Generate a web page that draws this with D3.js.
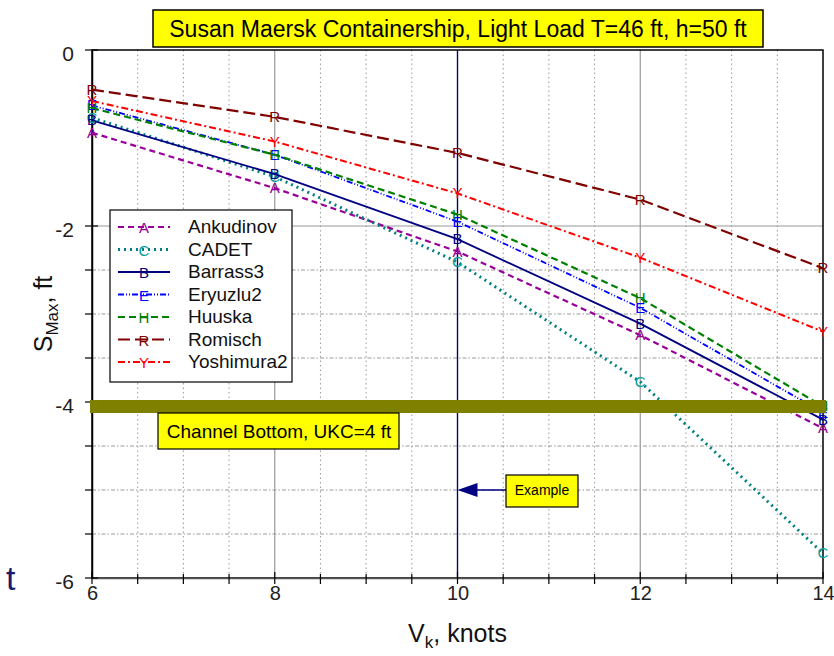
<!DOCTYPE html>
<html>
<head>
<meta charset="utf-8">
<script src="https://cdn.jsdelivr.net/npm/d3@7"></script>
<style>
  body { margin: 0; background: #ffffff; }
  text { font-family: "Liberation Sans", Arial, sans-serif; }
</style>
</head>
<body>
<div id="chart"></div>
<script>
// Data
const speeds = [6, 8, 10, 12, 14];
const ankudinov = [-0.94, -1.57, -2.29, -3.24, -4.30];
const cadet = [-0.77, -1.44, -2.41, -3.77, -5.72];
const barrass3 = [-0.80, -1.41, -2.15, -3.11, -4.20];
const eryuzlu2 = [-0.63, -1.19, -1.95, -2.93, -4.12];
const huuska = [-0.66, -1.19, -1.87, -2.82, -4.05];
const romisch = [-0.45, -0.76, -1.17, -1.70, -2.48];
const yoshimura2 = [-0.58, -1.04, -1.63, -2.36, -3.20];

const xTicks = [6, 8, 10, 12, 14];
const yTicks = [0, -2, -4, -6];
const minorY = [-2.5, -3, -3.5, -4.5, -5, -5.5];
const channelBottom = -4;
const exampleSpeed = 10;
const exampleY = -5;

// Series styling
const series = [
    { name: "Ankudinov", mark: "A", values: ankudinov, color: "#990099", dash: "6,4", width: 2.2 },
    { name: "CADET", mark: "C", values: cadet, color: "#008080", dash: "2,4", width: 3 },
    { name: "Barrass3", mark: "B", values: barrass3, color: "#000080", dash: null, width: 1.8 },
    { name: "Eryuzlu2", mark: "E", values: eryuzlu2, color: "#0000ff", dash: "6,2,1,2,1,2", width: 1.8 },
    { name: "Huuska", mark: "H", values: huuska, color: "#008000", dash: "7,4", width: 2.2 },
    { name: "Romisch", mark: "R", values: romisch, color: "#800000", dash: "12,5", width: 2.2 },
    { name: "Yoshimura2", mark: "Y", values: yoshimura2, color: "#ff0000", dash: "7,3,2,3", width: 2 }
];

const width = 834;
const height = 656;
const margin = { left: 92, right: 11, top: 50, bottom: 78 };

const svg = d3.select("#chart")
    .append("svg")
    .attr("width", width)
    .attr("height", height);

const x = d3.scaleLinear().domain([6, 14]).range([margin.left, width - margin.right]);
const y = d3.scaleLinear().domain([-6, 0]).range([height - margin.bottom, margin.top]);

// Minor vertical grid every 0.5 knot
const minorX = d3.range(6.5, 14, 0.5).filter(d => d % 2 !== 0);
svg.append("g").selectAll("line")
    .data(minorX)
    .enter().append("line")
    .attr("x1", d => x(d)).attr("x2", d => x(d))
    .attr("y1", y(0)).attr("y2", y(-6))
    .attr("stroke", "#999").attr("stroke-width", 1)
    .attr("stroke-dasharray", "1.5,3");

// Minor horizontal grid (dash-dot)
svg.append("g").selectAll("line")
    .data(minorY)
    .enter().append("line")
    .attr("x1", x(6)).attr("x2", x(14))
    .attr("y1", d => y(d)).attr("y2", d => y(d))
    .attr("stroke", "#999").attr("stroke-width", 1)
    .attr("stroke-dasharray", "4,2,1.5,2");

// Major grid
svg.append("g").selectAll("line")
    .data([8, 10, 12])
    .enter().append("line")
    .attr("x1", d => x(d)).attr("x2", d => x(d))
    .attr("y1", y(0)).attr("y2", y(-6))
    .attr("stroke", "#999").attr("stroke-width", 1.2);
svg.append("g").selectAll("line")
    .data([-2, -4])
    .enter().append("line")
    .attr("x1", x(6)).attr("x2", x(14))
    .attr("y1", d => y(d)).attr("y2", d => y(d))
    .attr("stroke", "#999").attr("stroke-width", 1.2);

// Example speed line
svg.append("line")
    .attr("x1", x(exampleSpeed)).attr("x2", x(exampleSpeed))
    .attr("y1", y(0)).attr("y2", y(-6))
    .attr("stroke", "#000080").attr("stroke-width", 1.3);

// Frame
svg.append("rect")
    .attr("x", x(6)).attr("y", y(0))
    .attr("width", x(14) - x(6)).attr("height", y(-6) - y(0))
    .attr("fill", "none").attr("stroke", "#000").attr("stroke-width", 1.5);

// Axes
const xAxis = d3.axisBottom(x).tickValues(xTicks).tickSize(0).tickPadding(8)
    .tickFormat(d => String(d));
const gx = svg.append("g")
    .attr("transform", `translate(0,${y(-6)})`)
    .call(xAxis);
gx.select(".domain").attr("stroke", "#555").attr("stroke-width", 1.5);
gx.selectAll("text").attr("font-size", 20).attr("fill", "#222")
    .attr("font-family", "'Liberation Sans', Arial, sans-serif");

// x ticks (major and minor)
svg.append("g").selectAll("line")
    .data(d3.range(6, 14.01, 0.5))
    .enter().append("line")
    .attr("x1", d => x(d)).attr("x2", d => x(d))
    .attr("y1", d => d % 2 === 0 ? y(-6) - 6 : y(-6) - 4)
    .attr("y2", y(-6) + 6)
    .attr("stroke", "#000").attr("stroke-width", 1.2);

const yAxis = d3.axisLeft(y).tickValues(yTicks).tickSize(0).tickPadding(18)
    .tickFormat(d => String(d));
const gy = svg.append("g")
    .attr("transform", `translate(${x(6)},0)`)
    .call(yAxis);
gy.select(".domain").attr("stroke", "#000").attr("stroke-width", 1.5);
gy.selectAll("text").attr("font-size", 21).attr("fill", "#222")
    .attr("dy", "0.5em")
    .attr("font-family", "'Liberation Sans', Arial, sans-serif");

// y ticks
svg.append("g").selectAll("line")
    .data(yTicks.concat(minorY))
    .enter().append("line")
    .attr("x1", x(6) - 7).attr("x2", d => yTicks.includes(d) ? x(6) + 6 : x(6))
    .attr("y1", d => y(d)).attr("y2", d => y(d))
    .attr("stroke", "#000").attr("stroke-width", 1.2);

// Series lines
const line = d3.line()
    .x((d, i) => x(speeds[i]))
    .y(d => y(d));

svg.append("g").selectAll("path")
    .data(series)
    .enter().append("path")
    .attr("d", s => line(s.values))
    .attr("fill", "none")
    .attr("stroke", s => s.color)
    .attr("stroke-width", s => s.width)
    .attr("stroke-dasharray", s => s.dash);

// Letter markers
series.forEach(s => {
    svg.append("g").selectAll("text")
        .data(s.values)
        .enter().append("text")
        .attr("x", (d, i) => x(speeds[i]))
        .attr("y", d => y(d) + 5)
        .attr("text-anchor", "middle")
        .attr("font-size", 15)
        .attr("fill", s.color === "#008080" ? "#00a0a0" : s.color)
        .text(s.mark);
});

// Channel bottom bar
svg.append("rect")
    .attr("x", x(6) - 2)
    .attr("y", y(channelBottom) - 2)
    .attr("width", x(14) - x(6) + 5)
    .attr("height", 13)
    .attr("fill", "#808000");

svg.append("rect")
    .attr("x", 158).attr("y", y(channelBottom) + 11)
    .attr("width", 241).attr("height", 36)
    .attr("fill", "#ffff00").attr("stroke", "#000").attr("stroke-width", 1.2);
svg.append("text")
    .attr("x", 279).attr("y", y(channelBottom) + 36)
    .attr("text-anchor", "middle")
    .attr("font-size", 19)
    .text("Channel Bottom, UKC=4 ft");

// Example annotation
svg.append("line")
    .attr("x1", 506).attr("x2", x(exampleSpeed) + 18)
    .attr("y1", y(exampleY)).attr("y2", y(exampleY))
    .attr("stroke", "#000080").attr("stroke-width", 1.5);
svg.append("path")
    .attr("d", `M${x(exampleSpeed)},${y(exampleY)} l20,-7 l0,14 z`)
    .attr("fill", "#000080");
svg.append("rect")
    .attr("x", 506).attr("y", y(exampleY) - 15)
    .attr("width", 72).attr("height", 32)
    .attr("fill", "#ffff00").attr("stroke", "#000").attr("stroke-width", 1.2);
svg.append("text")
    .attr("x", 542).attr("y", y(exampleY) + 5)
    .attr("text-anchor", "middle")
    .attr("font-size", 14)
    .text("Example");

// Legend
const legend = svg.append("g").attr("transform", "translate(110,210)");
legend.append("rect")
    .attr("width", 182).attr("height", 172)
    .attr("fill", "#fff").attr("stroke", "#000").attr("stroke-width", 1.2);
const rows = legend.selectAll("g.row")
    .data(series)
    .enter().append("g")
    .attr("class", "row")
    .attr("transform", (d, i) => `translate(0,${17 + i * 22.5})`);
rows.append("line")
    .attr("x1", 8).attr("x2", 60)
    .attr("stroke", s => s.color)
    .attr("stroke-width", s => s.width)
    .attr("stroke-dasharray", s => s.dash);
rows.append("text")
    .attr("x", 34).attr("y", 6)
    .attr("text-anchor", "middle")
    .attr("font-size", 15)
    .attr("fill", s => s.color === "#008080" ? "#00a0a0" : s.color)
    .text(s => s.mark);
rows.append("text")
    .attr("x", 78).attr("y", 6)
    .attr("font-size", 19)
    .attr("fill", "#111")
    .text(s => s.name);

// Title box
svg.append("rect")
    .attr("x", 153).attr("y", 10)
    .attr("width", 610).attr("height", 37)
    .attr("fill", "#ffff00").attr("stroke", "#000").attr("stroke-width", 1.5);
svg.append("text")
    .attr("x", 458).attr("y", 37)
    .attr("text-anchor", "middle")
    .attr("font-size", 23)
    .text("Susan Maersk Containership, Light Load T=46 ft, h=50 ft");

// Axis titles
const yl = svg.append("text")
    .attr("transform", `translate(52,${(y(0) + y(-6)) / 2}) rotate(-90)`)
    .attr("text-anchor", "middle")
    .attr("font-size", 25)
    .attr("fill", "#111");
yl.append("tspan").text("S");
yl.append("tspan").attr("font-size", 17).attr("dy", 6).text("Max");
yl.append("tspan").attr("dy", -6).text(", ft");

const xl = svg.append("text")
    .attr("x", x(10)).attr("y", 642)
    .attr("text-anchor", "middle")
    .attr("font-size", 25)
    .attr("fill", "#111");
xl.append("tspan").text("V");
xl.append("tspan").attr("font-size", 17).attr("dy", 6).text("k");
xl.append("tspan").attr("dy", -6).text(", knots");

// Stray slide glyph at lower left
svg.append("text")
    .attr("x", 6).attr("y", 590)
    .attr("font-size", 34)
    .attr("fill", "#1a1a6e")
    .text("t");
</script>
</body>
</html>
